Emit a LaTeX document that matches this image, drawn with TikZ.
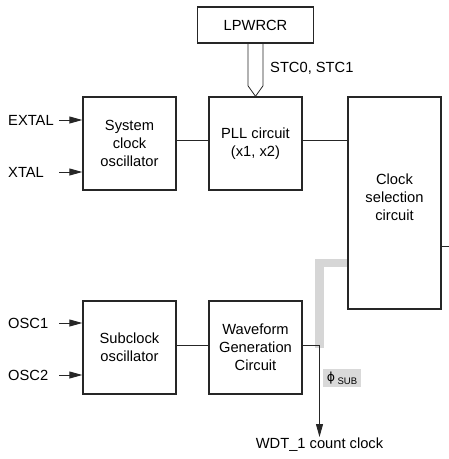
\documentclass[tikz,border=0pt]{standalone}
\usepackage{fontspec}
\setmainfont{Liberation Sans}
\newfontfamily\dejavu{DejaVu Sans}
\usetikzlibrary{arrows.meta}
\begin{document}
\begin{tikzpicture}[x=1pt,y=-1pt,
  txt/.style={font=\fontsize{14.7}{17.8}\selectfont, align=center, inner sep=1pt},
  blk/.style={draw=black!85, line width=1.4pt, minimum width=93pt, minimum height=93pt, inner sep=0pt,
              font=\fontsize{14.7}{17.8}\selectfont, align=center},
  wire/.style={draw=black!85, line width=0.9pt},
  arr/.style={wire, -{Triangle[length=13pt,width=7pt]}},
  graybus/.style={draw=black!16, line width=8.5pt, line join=miter},
]
\useasboundingbox (0,0) rectangle (449,459);
% helper coordinates
\coordinate (y120) at (0,120);
\coordinate (y140) at (0,140);
\coordinate (y172) at (0,172);
\coordinate (y246) at (0,246);
\coordinate (y263) at (0,263);
\coordinate (y323) at (0,323);
\coordinate (y345) at (0,345);
\coordinate (y375) at (0,375);
\coordinate (x59) at (59,0);
\coordinate (xbus) at (319.5,0);
\coordinate (rim) at (449,246);

% gray bus (behind)
\draw[graybus] (348,263) -- (319.5,263) -- (319.5,347.5);

% blocks
\node[blk, minimum width=116pt, minimum height=36pt] (lp) at (255.5,25) {LPWRCR};
\node[blk] (sys) at (129.5,143.5) {System\\clock\\oscillator};
\node[blk] (pll) at (255.5,143.5) {PLL circuit\\(x1, x2)};
\node[blk, minimum height=212pt] (cs) at (394.5,203) {};
\node[txt] (cstext) at (394.5,197.5) {Clock\\selection\\circuit};
\node[blk] (sub) at (129.5,347.5) {Subclock\\oscillator};
\node[blk] (wav) at (255.5,347.5) {Waveform\\Generation\\Circuit};

% labels
\node[txt, anchor=west] (extal) at (7,120) {EXTAL};
\node[txt, anchor=west] (xtal) at (7,172) {XTAL};
\node[txt, anchor=west] (osc1) at (7,323) {OSC1};
\node[txt, anchor=west] (osc2) at (7,375) {OSC2};
\node[txt, anchor=west] (stc) at (269,68) {STC0, STC1};
\node[txt] (wdt) at (319.5,445) {WDT\_1 count clock};
\node[fill=black!15, minimum width=38pt, minimum height=18pt, inner sep=0pt] (phisub) at (342,378)
  {\raisebox{0.5pt}{\dejavu\fontsize{12.5}{12.5}\selectfont ϕ}\hspace{2.5pt}\raisebox{-2.5pt}{\fontsize{9.5}{9.5}\selectfont SUB}};

% inputs
\draw[arr] (x59 |- y120) -- (sys.west |- y120);
\draw[arr] (x59 |- y172) -- (sys.west |- y172);
\draw[arr] (x59 |- y323) -- (sub.west |- y323);
\draw[arr] (x59 |- y375) -- (sub.west |- y375);

% hollow arrow LPWRCR -> PLL
\draw[wire, line width=0.8pt, line join=miter]
  ([xshift=-7.5pt]lp.south) -- ([xshift=-7.5pt,yshift=10.5pt]pll.north) -- (pll.north)
  -- ([xshift=7.5pt,yshift=10.5pt]pll.north) -- ([xshift=7.5pt]lp.south);

% connections
\draw[wire] (sys.east |- y140) -- (pll.west |- y140);
\draw[wire] (pll.east |- y140) -- (cs.west |- y140);
\draw[wire] (cs.east |- y246) -- (rim);
\draw[wire] (sub.east |- y345) -- (wav.west |- y345);
\draw[arr] (wav.east |- y345) -- (xbus |- y345) -- (xbus |- wdt.north);
\end{tikzpicture}
\end{document}
